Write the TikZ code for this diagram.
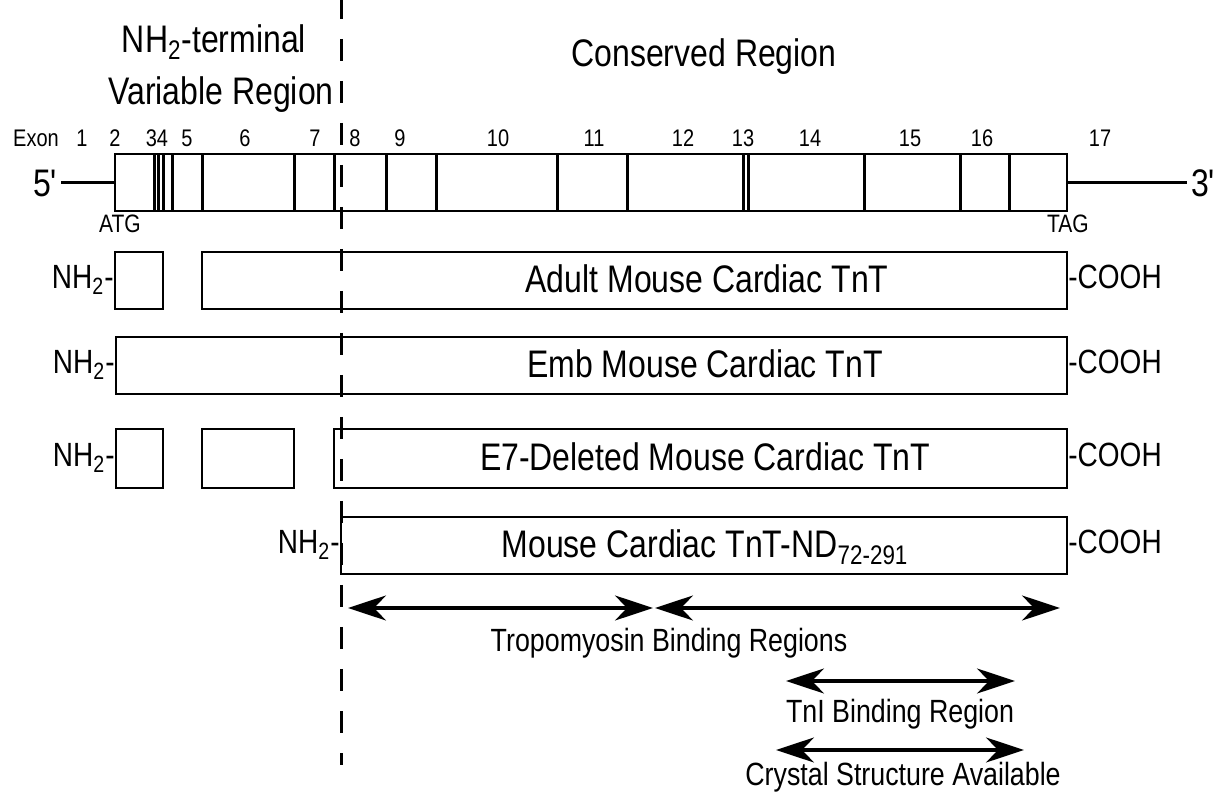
\documentclass[tikz,border=0pt]{standalone}
\usepackage{fontspec}
\usepackage{graphicx}
\setmainfont{Liberation Sans}
\usetikzlibrary{arrows.meta,fit}

% text in the figure is set a little taller than wide
\newcommand{\tall}[1]{\scalebox{1}[1.2]{#1}}

\tikzset{
  box/.style={draw, line width=1.4pt, inner sep=0pt},
  divider/.style={line width=1.5pt},
  region/.style={font=\fontsize{16}{18}\selectfont},
  exonlabel/.style={font=\fontsize{10}{12}\selectfont},
  codon/.style={font=\fontsize{10.5}{12}\selectfont, anchor=base},
  protein/.style={font=\fontsize{16}{18}\selectfont, anchor=base},
  endlabel/.style={font=\fontsize{14}{16}\selectfont, inner sep=0.5pt},
  binding/.style={font=\fontsize{13.4}{15}\selectfont, anchor=base},
  span/.style={line width=1.6pt,
    {Stealth[length=19pt,width=12.5pt,inset=6pt]}-{Stealth[length=19pt,width=12.5pt,inset=6pt]}},
}

\begin{document}
\begin{tikzpicture}[x=0.5pt,y=-0.5pt]
\useasboundingbox (0,0) rectangle (1220,795);

% region titles
\node[region, anchor=base] (nterm) at (214,53) {\tall{NH\textsubscript{2}-terminal}};
\node[region, anchor=base] (variable) at (221,105) {\tall{Variable Region}};
\node[region, anchor=base] (conserved) at (704,67) {\tall{Conserved Region}};

% exon numbers
\node[exonlabel, anchor=base] (exon) at (36,147) {\tall{Exon}};
\foreach \x/\n in {82/1, 115/2, 157/34, 187/5, 245/6, 315/7, 355/8, 400/9,
  498/10, 594/11, 683/12, 743/13, 810/14, 910/15, 982/16, 1100/17}
  \node[exonlabel, anchor=base] (e\n) at (\x,147) {\tall{\n}};

% gene
\node[box, fit={(115,154) (1067,211)}] (gene) {};
\foreach \x in {154,158,163,172,202,294,334,386,436,557,627,743,748,864,960,1009}
  \draw[divider] (\x,154) -- (\x,211);
\node[region, inner sep=2pt] (five) at (45,183) {\tall{5\textquotesingle}};
\node[region, inner sep=2pt] (three) at (1203,183) {\tall{3\textquotesingle}};
\draw[divider] (five.east) -- (five.east -| gene.west);
\draw[divider] (three.west -| gene.east) -- (three.west);
\node[codon] (atg) at (120,233) {\tall{ATG}};
\node[codon] (tag) at (1068,233) {\tall{TAG}};

% adult
\node[box, fit={(115,252) (163,309)}] (adult1) {};
\node[box, fit={(202,252) (1067,309)}] (adult2) {};
\node[protein] (adulttext) at (707,293) {\tall{Adult Mouse Cardiac TnT}};
\node[endlabel, anchor=base east] (adultN) at (115,289) {\tall{NH\textsubscript{2}-}};
\node[endlabel, anchor=base west] (adultC) at (1067,289) {\tall{-COOH}};

% embryonic
\node[box, fit={(116,337) (1067,394)}] (emb) {};
\node[protein] (embtext) at (705,378) {\tall{Emb Mouse Cardiac TnT}};
\node[endlabel, anchor=base east] (embN) at (116,374) {\tall{NH\textsubscript{2}-}};
\node[endlabel, anchor=base west] (embC) at (1067,374) {\tall{-COOH}};

% exon 7 deleted
\node[box, fit={(116,429) (163,488)}] (del1) {};
\node[box, fit={(202,429) (294,488)}] (del2) {};
\node[box, fit={(334,429) (1067,488)}] (del3) {};
\node[protein] (deltext) at (705,471) {\tall{E7-Deleted Mouse Cardiac TnT}};
\node[endlabel, anchor=base east] (delN) at (116,467) {\tall{NH\textsubscript{2}-}};
\node[endlabel, anchor=base west] (delC) at (1067,467) {\tall{-COOH}};

% N-terminal deleted
\node[box, fit={(341,517) (1067,574)}] (nd) {};
\node[protein] (ndtext) at (705,558) {\tall{Mouse Cardiac TnT-ND\textsubscript{72-291}}};
\node[endlabel, anchor=base east] (ndN) at (341,554) {\tall{NH\textsubscript{2}-}};
\node[endlabel, anchor=base west] (ndC) at (1067,554) {\tall{-COOH}};

% boundary between variable and conserved region
\draw[line width=1.5pt, dash pattern=on 11pt off 10pt] (341,-3) -- (341,765);

% binding regions
\coordinate (tma) at (348,608);
\coordinate (tmb) at (653,608);
\coordinate (tmc) at (655,608);
\coordinate (tmd) at (1060,608);
\draw[span] (tma) -- (tmb);
\draw[span] (tmc) -- (tmd);
\node[binding] (tmtext) at (669,652) {\tall{Tropomyosin Binding Regions}};

\coordinate (tnia) at (786,681);
\coordinate (tnib) at (1015,681);
\draw[span] (tnia) -- (tnib);
\node[binding] (tnitext) at (900,722) {\tall{TnI Binding Region}};

\coordinate (xa) at (776,750);
\coordinate (xb) at (1024,750);
\draw[span] (xa) -- (xb);
\node[binding] (xtext) at (903,785) {\tall{Crystal Structure Available}};
\end{tikzpicture}
\end{document}
